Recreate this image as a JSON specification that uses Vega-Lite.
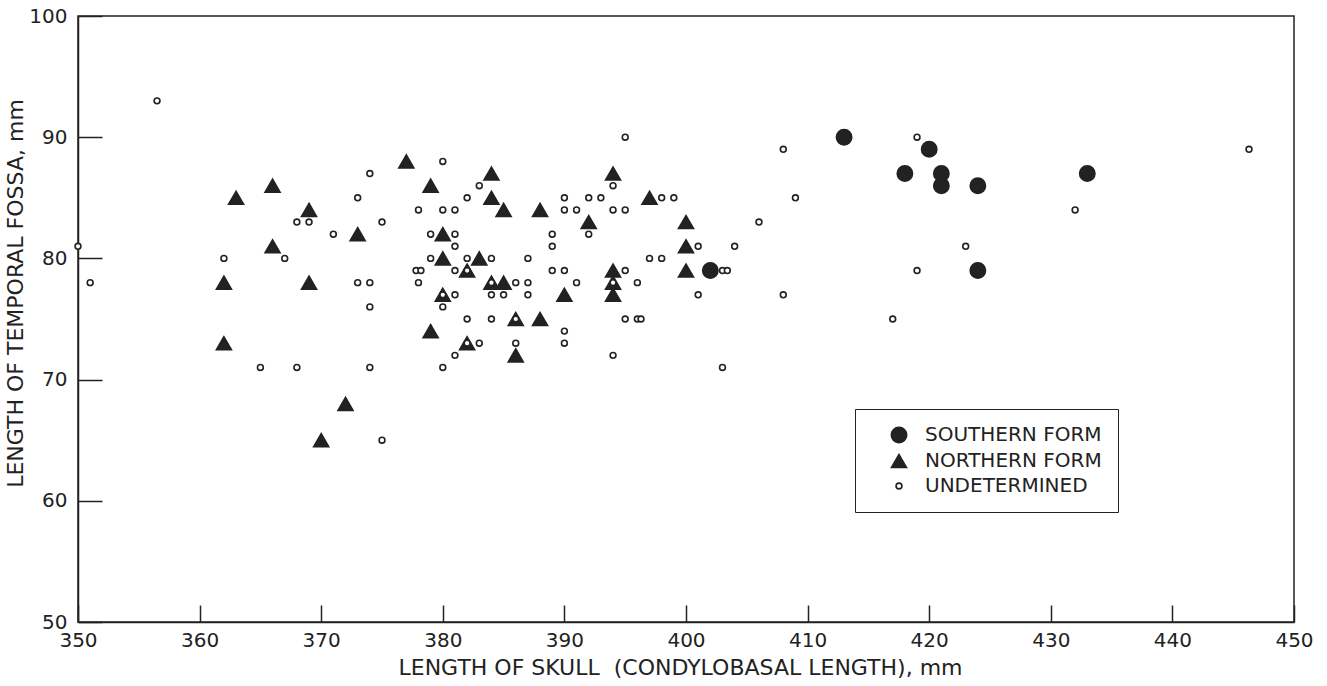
{
  "$schema": "https://vega.github.io/schema/vega-lite/v6.json",
  "width": 1216,
  "height": 606,
  "autosize": {"type": "none"},
  "padding": {"left": 78, "top": 16, "right": 33, "bottom": 64},
  "background": "white",
  "config": {
    "font": "DejaVu Sans",
    "view": {"stroke": "#222", "strokeWidth": 1.5},
    "axis": {"grid": false, "domainColor": "#222", "domainWidth": 1.5, "tickColor": "#222", "tickWidth": 1.5, "labelColor": "#222", "titleColor": "#222", "labelFont": "DejaVu Sans", "titleFont": "DejaVu Sans", "labelFontSize": 20, "titleFontSize": 22, "titleFontWeight": "normal", "labelFlush": false, "labelOverlap": false}
  },
  "data": {"values": [
    {"skull": 413, "fossa": 90, "form": "SOUTHERN FORM"},
    {"skull": 420, "fossa": 89, "form": "SOUTHERN FORM"},
    {"skull": 418, "fossa": 87, "form": "SOUTHERN FORM"},
    {"skull": 421, "fossa": 87, "form": "SOUTHERN FORM"},
    {"skull": 421, "fossa": 86, "form": "SOUTHERN FORM"},
    {"skull": 424, "fossa": 86, "form": "SOUTHERN FORM"},
    {"skull": 433, "fossa": 87, "form": "SOUTHERN FORM"},
    {"skull": 402, "fossa": 79, "form": "SOUTHERN FORM"},
    {"skull": 424, "fossa": 79, "form": "SOUTHERN FORM"},
    {"skull": 363, "fossa": 85, "form": "NORTHERN FORM"},
    {"skull": 366, "fossa": 86, "form": "NORTHERN FORM"},
    {"skull": 366, "fossa": 81, "form": "NORTHERN FORM"},
    {"skull": 369, "fossa": 84, "form": "NORTHERN FORM"},
    {"skull": 362, "fossa": 78, "form": "NORTHERN FORM"},
    {"skull": 369, "fossa": 78, "form": "NORTHERN FORM"},
    {"skull": 362, "fossa": 73, "form": "NORTHERN FORM"},
    {"skull": 372, "fossa": 68, "form": "NORTHERN FORM"},
    {"skull": 370, "fossa": 65, "form": "NORTHERN FORM"},
    {"skull": 373, "fossa": 82, "form": "NORTHERN FORM"},
    {"skull": 377, "fossa": 88, "form": "NORTHERN FORM"},
    {"skull": 379, "fossa": 86, "form": "NORTHERN FORM"},
    {"skull": 380, "fossa": 82, "form": "NORTHERN FORM"},
    {"skull": 380, "fossa": 80, "form": "NORTHERN FORM"},
    {"skull": 379, "fossa": 74, "form": "NORTHERN FORM"},
    {"skull": 380, "fossa": 77, "form": "NORTHERN FORM"},
    {"skull": 382, "fossa": 79, "form": "NORTHERN FORM"},
    {"skull": 382, "fossa": 73, "form": "NORTHERN FORM"},
    {"skull": 383, "fossa": 80, "form": "NORTHERN FORM"},
    {"skull": 384, "fossa": 87, "form": "NORTHERN FORM"},
    {"skull": 384, "fossa": 85, "form": "NORTHERN FORM"},
    {"skull": 385, "fossa": 84, "form": "NORTHERN FORM"},
    {"skull": 384, "fossa": 78, "form": "NORTHERN FORM"},
    {"skull": 385, "fossa": 78, "form": "NORTHERN FORM"},
    {"skull": 386, "fossa": 75, "form": "NORTHERN FORM"},
    {"skull": 386, "fossa": 72, "form": "NORTHERN FORM"},
    {"skull": 388, "fossa": 84, "form": "NORTHERN FORM"},
    {"skull": 388, "fossa": 75, "form": "NORTHERN FORM"},
    {"skull": 390, "fossa": 77, "form": "NORTHERN FORM"},
    {"skull": 392, "fossa": 83, "form": "NORTHERN FORM"},
    {"skull": 394, "fossa": 87, "form": "NORTHERN FORM"},
    {"skull": 394, "fossa": 79, "form": "NORTHERN FORM"},
    {"skull": 394, "fossa": 78, "form": "NORTHERN FORM"},
    {"skull": 394, "fossa": 77, "form": "NORTHERN FORM"},
    {"skull": 397, "fossa": 85, "form": "NORTHERN FORM"},
    {"skull": 400, "fossa": 83, "form": "NORTHERN FORM"},
    {"skull": 400, "fossa": 81, "form": "NORTHERN FORM"},
    {"skull": 400, "fossa": 79, "form": "NORTHERN FORM"},
    {"skull": 350, "fossa": 81, "form": "UNDETERMINED"},
    {"skull": 351, "fossa": 78, "form": "UNDETERMINED"},
    {"skull": 356.5, "fossa": 93, "form": "UNDETERMINED"},
    {"skull": 362, "fossa": 80, "form": "UNDETERMINED"},
    {"skull": 365, "fossa": 71, "form": "UNDETERMINED"},
    {"skull": 367, "fossa": 80, "form": "UNDETERMINED"},
    {"skull": 368, "fossa": 83, "form": "UNDETERMINED"},
    {"skull": 369, "fossa": 83, "form": "UNDETERMINED"},
    {"skull": 368, "fossa": 71, "form": "UNDETERMINED"},
    {"skull": 371, "fossa": 82, "form": "UNDETERMINED"},
    {"skull": 373, "fossa": 85, "form": "UNDETERMINED"},
    {"skull": 373, "fossa": 78, "form": "UNDETERMINED"},
    {"skull": 374, "fossa": 87, "form": "UNDETERMINED"},
    {"skull": 374, "fossa": 78, "form": "UNDETERMINED"},
    {"skull": 374, "fossa": 76, "form": "UNDETERMINED"},
    {"skull": 374, "fossa": 71, "form": "UNDETERMINED"},
    {"skull": 375, "fossa": 83, "form": "UNDETERMINED"},
    {"skull": 375, "fossa": 65, "form": "UNDETERMINED"},
    {"skull": 378, "fossa": 84, "form": "UNDETERMINED"},
    {"skull": 377.8, "fossa": 79, "form": "UNDETERMINED"},
    {"skull": 378.2, "fossa": 79, "form": "UNDETERMINED"},
    {"skull": 378, "fossa": 78, "form": "UNDETERMINED"},
    {"skull": 379, "fossa": 82, "form": "UNDETERMINED"},
    {"skull": 379, "fossa": 80, "form": "UNDETERMINED"},
    {"skull": 380, "fossa": 88, "form": "UNDETERMINED"},
    {"skull": 380, "fossa": 84, "form": "UNDETERMINED"},
    {"skull": 381, "fossa": 84, "form": "UNDETERMINED"},
    {"skull": 381, "fossa": 82, "form": "UNDETERMINED"},
    {"skull": 381, "fossa": 81, "form": "UNDETERMINED"},
    {"skull": 381, "fossa": 79, "form": "UNDETERMINED"},
    {"skull": 381, "fossa": 77, "form": "UNDETERMINED"},
    {"skull": 380, "fossa": 76, "form": "UNDETERMINED"},
    {"skull": 380, "fossa": 71, "form": "UNDETERMINED"},
    {"skull": 381, "fossa": 72, "form": "UNDETERMINED"},
    {"skull": 382, "fossa": 85, "form": "UNDETERMINED"},
    {"skull": 383, "fossa": 86, "form": "UNDETERMINED"},
    {"skull": 382, "fossa": 80, "form": "UNDETERMINED"},
    {"skull": 384, "fossa": 80, "form": "UNDETERMINED"},
    {"skull": 382, "fossa": 75, "form": "UNDETERMINED"},
    {"skull": 384, "fossa": 75, "form": "UNDETERMINED"},
    {"skull": 383, "fossa": 73, "form": "UNDETERMINED"},
    {"skull": 384, "fossa": 77, "form": "UNDETERMINED"},
    {"skull": 385, "fossa": 77, "form": "UNDETERMINED"},
    {"skull": 387, "fossa": 77, "form": "UNDETERMINED"},
    {"skull": 386, "fossa": 78, "form": "UNDETERMINED"},
    {"skull": 387, "fossa": 78, "form": "UNDETERMINED"},
    {"skull": 387, "fossa": 80, "form": "UNDETERMINED"},
    {"skull": 386, "fossa": 73, "form": "UNDETERMINED"},
    {"skull": 389, "fossa": 79, "form": "UNDETERMINED"},
    {"skull": 390, "fossa": 79, "form": "UNDETERMINED"},
    {"skull": 389, "fossa": 82, "form": "UNDETERMINED"},
    {"skull": 389, "fossa": 81, "form": "UNDETERMINED"},
    {"skull": 390, "fossa": 85, "form": "UNDETERMINED"},
    {"skull": 390, "fossa": 84, "form": "UNDETERMINED"},
    {"skull": 391, "fossa": 84, "form": "UNDETERMINED"},
    {"skull": 391, "fossa": 78, "form": "UNDETERMINED"},
    {"skull": 390, "fossa": 74, "form": "UNDETERMINED"},
    {"skull": 390, "fossa": 73, "form": "UNDETERMINED"},
    {"skull": 392, "fossa": 85, "form": "UNDETERMINED"},
    {"skull": 393, "fossa": 85, "form": "UNDETERMINED"},
    {"skull": 392, "fossa": 82, "form": "UNDETERMINED"},
    {"skull": 394, "fossa": 86, "form": "UNDETERMINED"},
    {"skull": 394, "fossa": 84, "form": "UNDETERMINED"},
    {"skull": 395, "fossa": 84, "form": "UNDETERMINED"},
    {"skull": 395, "fossa": 79, "form": "UNDETERMINED"},
    {"skull": 394, "fossa": 72, "form": "UNDETERMINED"},
    {"skull": 395, "fossa": 75, "form": "UNDETERMINED"},
    {"skull": 396, "fossa": 75, "form": "UNDETERMINED"},
    {"skull": 396.3, "fossa": 75, "form": "UNDETERMINED"},
    {"skull": 396, "fossa": 78, "form": "UNDETERMINED"},
    {"skull": 395, "fossa": 90, "form": "UNDETERMINED"},
    {"skull": 398, "fossa": 85, "form": "UNDETERMINED"},
    {"skull": 399, "fossa": 85, "form": "UNDETERMINED"},
    {"skull": 397, "fossa": 80, "form": "UNDETERMINED"},
    {"skull": 398, "fossa": 80, "form": "UNDETERMINED"},
    {"skull": 401, "fossa": 81, "form": "UNDETERMINED"},
    {"skull": 401, "fossa": 77, "form": "UNDETERMINED"},
    {"skull": 403, "fossa": 79, "form": "UNDETERMINED"},
    {"skull": 403.4, "fossa": 79, "form": "UNDETERMINED"},
    {"skull": 403, "fossa": 71, "form": "UNDETERMINED"},
    {"skull": 404, "fossa": 81, "form": "UNDETERMINED"},
    {"skull": 406, "fossa": 83, "form": "UNDETERMINED"},
    {"skull": 408, "fossa": 89, "form": "UNDETERMINED"},
    {"skull": 409, "fossa": 85, "form": "UNDETERMINED"},
    {"skull": 408, "fossa": 77, "form": "UNDETERMINED"},
    {"skull": 417, "fossa": 75, "form": "UNDETERMINED"},
    {"skull": 419, "fossa": 90, "form": "UNDETERMINED"},
    {"skull": 419, "fossa": 79, "form": "UNDETERMINED"},
    {"skull": 423, "fossa": 81, "form": "UNDETERMINED"},
    {"skull": 432, "fossa": 84, "form": "UNDETERMINED"},
    {"skull": 446.3, "fossa": 89, "form": "UNDETERMINED"},
    {"skull": 380, "fossa": 77, "form": "UNDETERMINED"},
    {"skull": 382, "fossa": 79, "form": "UNDETERMINED"},
    {"skull": 382, "fossa": 73, "form": "UNDETERMINED"},
    {"skull": 384, "fossa": 78, "form": "UNDETERMINED"},
    {"skull": 386, "fossa": 75, "form": "UNDETERMINED"},
    {"skull": 394, "fossa": 78, "form": "UNDETERMINED"}
  ]},
  "mark": {"type": "point", "filled": true, "opacity": 1, "stroke": "#222", "strokeWidth": 1.6},
  "encoding": {
    "x": {
      "field": "skull", "type": "quantitative",
      "scale": {"domain": [350, 450], "nice": false, "zero": false},
      "axis": {"title": "LENGTH OF SKULL \u00a0(CONDYLOBASAL LENGTH), mm", "values": [350, 360, 370, 380, 390, 400, 410, 420, 430, 440, 450], "tickSize": -17, "labelPadding": 25, "titlePadding": 7, "titleX": 602}
    },
    "y": {
      "field": "fossa", "type": "quantitative",
      "scale": {"domain": [50, 100], "nice": false, "zero": false},
      "axis": {"title": "LENGTH OF TEMPORAL FOSSA, mm", "values": [50, 60, 70, 80, 90, 100], "tickSize": -24, "labelPadding": 35, "titlePadding": 1, "titleY": 277}
    },
    "shape": {
      "field": "form", "type": "nominal",
      "scale": {"domain": ["SOUTHERN FORM", "NORTHERN FORM", "UNDETERMINED"], "range": ["circle", "triangle-up", "circle"]},
      "legend": {"orient": "none", "legendX": 777, "legendY": 393, "title": null, "padding": 16, "strokeColor": "#222", "fillColor": "white", "labelFont": "DejaVu Sans", "labelFontSize": 20, "labelColor": "#222", "labelLimit": 400, "symbolOffset": 18, "labelOffset": 16, "rowPadding": 5, "symbolStrokeColor": "#222", "symbolStrokeWidth": 1.6, "symbolOpacity": 1, "encode": {"legend": {"update": {"strokeWidth": {"value": 1.5}}}}}
    },
    "fill": {
      "field": "form", "type": "nominal",
      "scale": {"domain": ["SOUTHERN FORM", "NORTHERN FORM", "UNDETERMINED"], "range": ["#222222", "#222222", "#ffffff"]}
    },
    "size": {
      "field": "form", "type": "nominal",
      "scale": {"type": "ordinal", "domain": ["SOUTHERN FORM", "NORTHERN FORM", "UNDETERMINED"], "range": [235, 225, 34]}
    }
  }
}
